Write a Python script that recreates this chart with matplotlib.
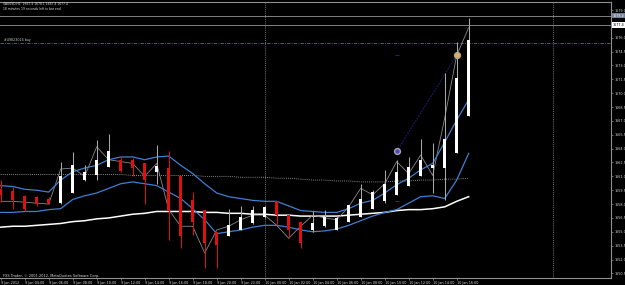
import matplotlib
matplotlib.use("Agg")
import matplotlib.pyplot as plt

# ---------------- data (XAUUSD, H1) ----------------
opens  = [1659.6, 1659.4, 1658.9, 1658.8, 1658.6, 1658.1, 1659.2, 1660.6, 1661.1, 1662.0,
          1662.8, 1662.8, 1662.4, 1661.5, 1661.9, 1661.0, 1658.4, 1657.4, 1655.0, 1654.5,
          1655.2, 1655.9, 1656.6, 1658.3, 1656.8, 1656.1, 1655.2, 1655.6, 1655.2, 1656.1,
          1656.6, 1657.5, 1658.3, 1659.0, 1660.0, 1661.0, 1661.9, 1661.9, 1663.5, 1667.5]
highs  = [1660.6, 1659.9, 1659.0, 1658.9, 1658.8, 1662.5, 1663.6, 1662.2, 1664.9, 1665.6,
          1663.2, 1663.0, 1662.4, 1664.4, 1663.7, 1661.0, 1659.3, 1657.4, 1655.0, 1657.5,
          1657.8, 1657.8, 1657.8, 1658.3, 1656.8, 1656.1, 1657.2, 1657.4, 1656.8, 1657.9,
          1660.2, 1659.5, 1661.7, 1662.8, 1663.1, 1665.0, 1664.6, 1672.2, 1675.5, 1678.1]
lows   = [1658.2, 1657.5, 1657.2, 1657.8, 1658.0, 1658.0, 1659.2, 1660.5, 1660.6, 1662.0,
          1661.5, 1661.0, 1658.0, 1660.2, 1654.1, 1653.2, 1654.6, 1651.1, 1651.1, 1654.5,
          1655.2, 1655.8, 1656.5, 1655.8, 1654.3, 1653.3, 1655.0, 1655.5, 1655.2, 1656.1,
          1656.6, 1657.5, 1658.1, 1659.0, 1660.0, 1661.0, 1659.2, 1658.4, 1663.5, 1667.5]
closes = [1659.0, 1658.4, 1657.5, 1658.0, 1658.1, 1661.0, 1662.2, 1661.5, 1662.8, 1663.7,
          1661.6, 1661.9, 1660.6, 1662.1, 1657.2, 1654.5, 1656.1, 1653.8, 1653.6, 1655.7,
          1656.6, 1657.4, 1657.7, 1656.8, 1655.2, 1653.8, 1656.0, 1656.6, 1656.5, 1657.9,
          1658.6, 1659.3, 1660.2, 1661.5, 1662.0, 1662.8, 1662.2, 1665.0, 1671.6, 1675.8]

upper_band = [1660.0, 1659.9, 1659.6, 1659.5, 1659.3, 1660.6, 1661.5, 1661.9, 1662.2, 1662.8,
              1663.1, 1663.1, 1662.8, 1663.1, 1663.2, 1662.2, 1661.3, 1660.2, 1659.2, 1658.8,
              1658.6, 1658.4, 1658.3, 1658.3, 1657.8, 1657.3, 1657.2, 1657.1, 1657.1, 1657.5,
              1658.1, 1658.4, 1659.2, 1660.1, 1660.8, 1661.7, 1662.4, 1664.7, 1667.1, 1669.3]
lower_band = [1657.1, 1657.1, 1657.2, 1657.2, 1657.4, 1657.5, 1658.5, 1658.9, 1659.2, 1659.7,
              1660.2, 1660.4, 1660.2, 1660.0, 1659.3, 1658.6, 1657.5, 1656.3, 1654.8, 1655.0,
              1655.2, 1655.5, 1655.7, 1655.7, 1655.5, 1655.2, 1655.0, 1655.1, 1655.3, 1655.7,
              1656.2, 1656.7, 1657.1, 1657.4, 1658.1, 1658.8, 1658.9, 1658.6, 1660.6, 1663.5]
slow_ma = [1655.5, 1655.6, 1655.6, 1655.7, 1655.8, 1655.9, 1656.1, 1656.2, 1656.4, 1656.5,
           1656.7, 1656.9, 1657.0, 1657.2, 1657.2, 1657.2, 1657.2, 1657.1, 1657.1, 1657.0,
           1657.0, 1656.9, 1656.9, 1656.8, 1656.8, 1656.7, 1656.7, 1656.7, 1656.7, 1656.8,
           1656.9, 1657.0, 1657.1, 1657.3, 1657.4, 1657.4, 1657.5, 1657.7, 1658.3, 1658.8]
dotted_ma = [1661.2, 1661.2, 1661.2, 1661.2, 1661.2, 1661.2, 1661.2, 1661.2, 1661.2, 1661.2,
             1661.2, 1661.1, 1661.1, 1661.1, 1661.1, 1661.1, 1661.1, 1661.0, 1661.0, 1661.0,
             1660.9, 1660.9, 1660.9, 1660.8, 1660.8, 1660.7, 1660.6, 1660.6, 1660.5, 1660.5,
             1660.4, 1660.4, 1660.4, 1660.5, 1660.5, 1660.6, 1660.6, 1660.7, 1660.7, 1660.8]
grey_line = [1658.3, 1658.3, 1658.2, 1658.1, 1658.0, 1661.8, 1661.9, 1661.0, 1664.2, 1662.8,
             1662.6, 1662.4, 1661.0, 1662.4, 1657.4, 1655.6, 1655.6, 1652.7, 1655.2, 1655.6,
             1656.3, 1656.8, 1656.8, 1655.7, 1654.3, 1655.6, 1656.8, 1656.5, 1656.3, 1657.7,
             1659.7, 1659.0, 1660.2, 1662.6, 1661.3, 1663.3, 1661.1, 1667.3, 1674.1, 1677.1]

ytick_values = [1650.5, 1652.0, 1653.5, 1655.0, 1656.5, 1658.0, 1659.5, 1661.0, 1662.5, 1664.0,
                1665.5, 1667.0, 1668.5, 1670.0, 1671.5, 1673.0, 1674.5, 1676.0, 1677.5, 1679.0]
xtick_pos = [0, 2, 4, 6, 8, 10, 12, 14, 16, 18, 20, 22, 24, 26, 28, 30, 32, 34, 36, 38]
xtick_labels = ["9 Jan 2012", "9 Jan 04:00", "9 Jan 06:00", "9 Jan 08:00", "9 Jan 10:00",
                "9 Jan 12:00", "9 Jan 14:00", "9 Jan 16:00", "9 Jan 18:00", "9 Jan 20:00",
                "9 Jan 22:00", "10 Jan 00:00", "10 Jan 02:00", "10 Jan 04:00", "10 Jan 06:00",
                "10 Jan 08:00", "10 Jan 10:00", "10 Jan 12:00", "10 Jan 14:00", "10 Jan 16:00"]
day_separators = [22, 46]
ask_price = 1678.4
bid_price = 1677.4
order_price = 1675.4
trade_open = (33, 1663.7)
trade_close = (38, 1674.1)
header1 = "XAUUSD,H1  1667.4 1678.1 1667.4 1677.4"
header2 = "18 minutes 19 seconds left to bar end"
footer = "FXS Trader, \u00a9 2001-2012, MetaQuotes Software Corp."
order_label = "#49823024 buy"

# ---------------- figure ----------------
W, H = 625, 285
fig = plt.figure(figsize=(W / 100, H / 100), dpi=100, facecolor="black")
ax = fig.add_axes([0 / W, 7 / H, 611 / W, 276 / H], facecolor="black")
ax.set_xlim(-0.058, -0.058 + 611 / 12)
ax.set_ylim(1650.0, 1679.87)

idx = list(range(len(opens)))
# indicators
ax.plot(idx, dotted_ma, color="#b8b8b8", lw=0.6, ls=(0, (1, 1.5)), zorder=1)
ax.plot(idx, slow_ma, color="#ffffff", lw=1.1, zorder=2)
ax.plot(idx, grey_line, color="#8a8a8a", lw=0.6, zorder=2)
ax.plot(idx, upper_band, color="#3f7fd0", lw=0.9, zorder=3)
ax.plot(idx, lower_band, color="#3f7fd0", lw=0.9, zorder=3)

# candles
for i, o, h, l, c in zip(idx, opens, highs, lows, closes):
    bull = c >= o
    wick_col = "#a8a8a8" if bull else "#e01010"
    body_col = "#ffffff" if bull else "#e01010"
    ax.vlines(i, l, h, color=wick_col, lw=0.75, zorder=4)
    ax.bar(i, abs(c - o), bottom=min(o, c), width=0.25, color=body_col, lw=0, zorder=5)

# day separators
for d in day_separators:
    ax.axvline(d, color="#a0a0a0", lw=0.6, ls=(0, (1, 1.5)), zorder=0)

# price lines
ax.axhline(ask_price, color="#808080", lw=0.7, zorder=1)
ax.axhline(bid_price, color="#808080", lw=0.7, zorder=1)
ax.axhline(order_price, color="#2f8f3f", lw=0.6, ls=(0, (4, 1.5, 1, 1.5)), zorder=1)
ax.text(0.3, order_price + 0.15, order_label, color="#d0d0d0", fontsize=2.3, va="bottom", ha="left")

# trade
ax.plot([trade_open[0], trade_close[0]], [trade_open[1], trade_close[1]], color="#1c1c78",
        lw=0.7, ls=(0, (2, 1)), zorder=3)
ax.plot(trade_open[0], trade_open[1], "o", ms=4.2, mfc="#4848c8", mec="#a8a8a8", mew=1.0, zorder=6)
ax.plot(trade_close[0], trade_close[1], "o", ms=4.2, mfc="#d8b060", mec="#b8a888", mew=1.0, zorder=6)
ax.plot(trade_open[0], trade_close[1], "_", ms=2.5, color="#20208a", mew=0.8, zorder=3)
ax.plot(trade_open[0], 1658.3, "_", ms=2.5, color="#8a1010", mew=0.8, zorder=3)

# axes styling
for s in ["left"]:
    ax.spines[s].set_visible(False)
for s in ["top", "right", "bottom"]:
    ax.spines[s].set_color("#909090")
    ax.spines[s].set_linewidth(0.8)
ax.yaxis.tick_right()
ax.set_yticks(ytick_values)
ax.set_yticklabels([f"{v:.1f}" for v in ytick_values])
ax.tick_params(axis="y", colors="#909090", labelcolor="#d8d8d8", labelsize=2.4,
               length=1.5, width=0.5, pad=1)
ax.set_xticks(xtick_pos)
ax.set_xticklabels(xtick_labels)
ax.tick_params(axis="x", colors="#909090", labelcolor="#d8d8d8", labelsize=2.4,
               length=1.5, width=0.5, pad=0.8)
for lab in ax.get_xticklabels():
    lab.set_horizontalalignment("left")

# price boxes on right axis
ax.annotate(f"{ask_price:.1f}", xy=(1.0, ask_price), xycoords=("axes fraction", "data"),
            xytext=(1.5, 0), textcoords="offset points", fontsize=2.4, color="#ffffff",
            va="center", ha="left",
            bbox=dict(boxstyle="square,pad=0.25", fc="#6f7f95", ec="none"), zorder=10,
            annotation_clip=False)
ax.annotate(f"{bid_price:.1f}", xy=(1.0, bid_price), xycoords=("axes fraction", "data"),
            xytext=(1.5, 0), textcoords="offset points", fontsize=2.4, color="#000000",
            va="center", ha="left",
            bbox=dict(boxstyle="square,pad=0.25", fc="#ffffff", ec="none"), zorder=10,
            annotation_clip=False)

# texts
fig.text(3 / W, 1 - 4 / H, header1, color="#e0e0e0", fontsize=2.2, va="center", ha="left")
fig.text(3 / W, 1 - 8.5 / H, header2, color="#e0e0e0", fontsize=2.2, va="center", ha="left")
fig.text(3 / W, 1 - 275.5 / H, footer, color="#e0e0e0", fontsize=2.5, va="center", ha="left")

fig.savefig("out.png", dpi=100, facecolor="black")
